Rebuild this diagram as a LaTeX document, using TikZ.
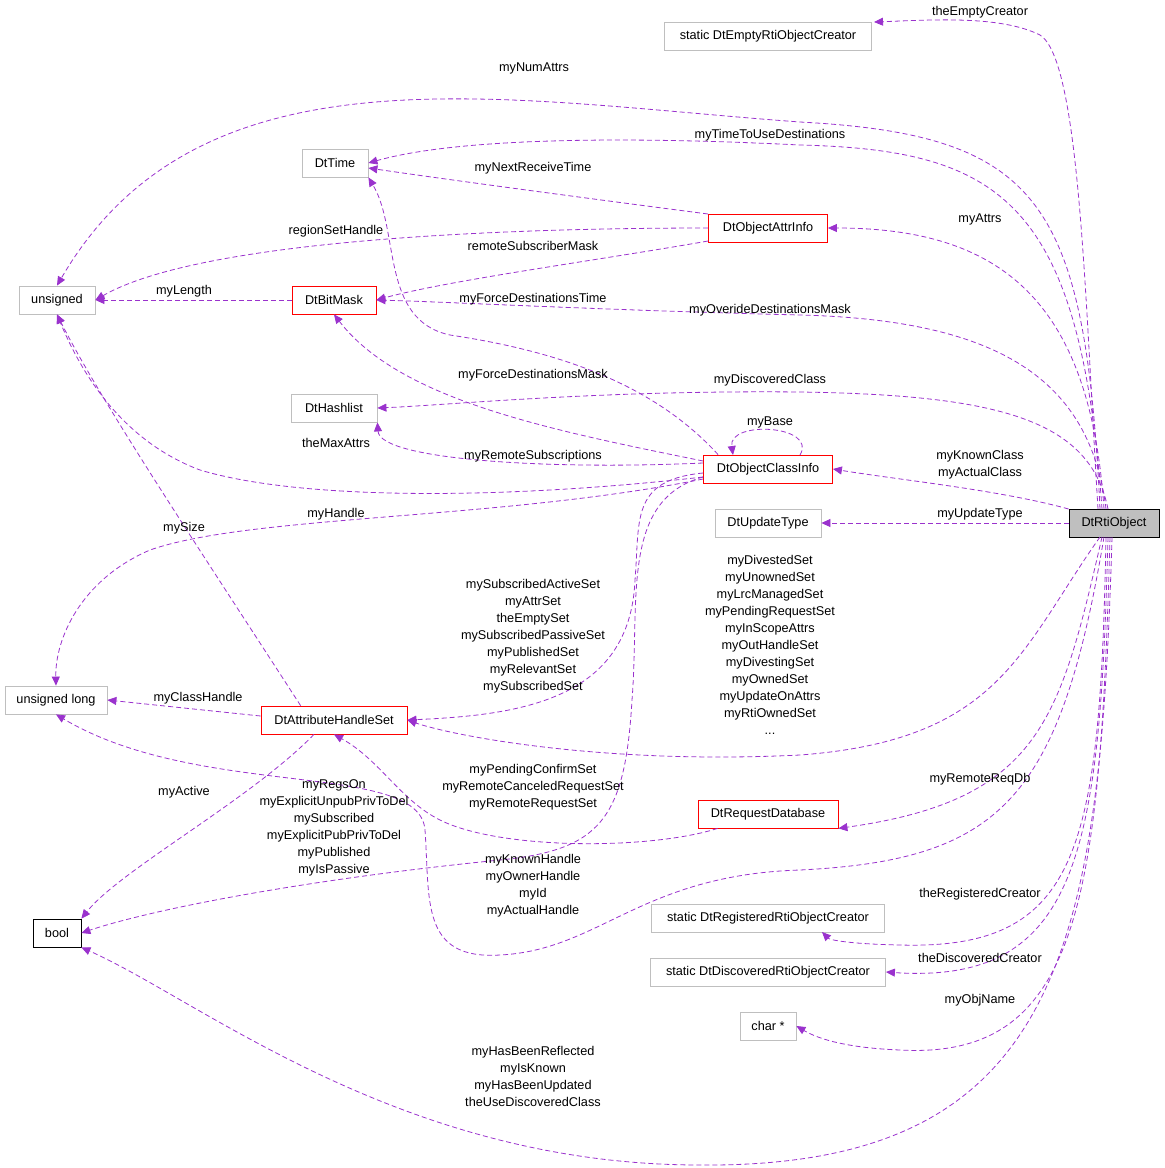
\documentclass[tikz,border=0pt]{standalone}
\usepackage{fontspec}
\setmainfont{Liberation Sans}
\usetikzlibrary{arrows.meta}
\definecolor{edge}{HTML}{9A32CD}
\definecolor{boxgray}{HTML}{BFBFBF}
\begin{document}
\begin{tikzpicture}[x=1pt,y=-1pt,
  every node/.style={font=\fontsize{12.7}{17}\selectfont},
  box/.style={draw=boxgray,fill=white,minimum height=28pt,inner xsep=6pt,inner ysep=0pt,line width=0.8pt},
  red/.style={box,draw=red},
  blk/.style={box,draw=black},
  e/.style={draw=edge,dashed,dash pattern=on 5pt off 3pt,line width=0.8pt,-{Triangle[length=9pt,width=8pt]}},
  lab/.style={align=center,inner sep=0pt}]
\useasboundingbox (0,0) rectangle (1165,1168);
% nodes
\node[box,minimum width=207pt] (empty) at (768,36) {static DtEmptyRtiObjectCreator};
\node[box,minimum width=66pt] (time) at (335,163) {DtTime};
\node[red,minimum width=119pt] (oai) at (768,228) {DtObjectAttrInfo};
\node[box,minimum width=76pt] (uns) at (57,300) {unsigned};
\node[red,minimum width=84pt] (bm) at (334,300) {DtBitMask};
\node[box,minimum width=86pt] (hl) at (334,408) {DtHashlist};
\node[red,minimum width=129pt] (oci) at (768,469) {DtObjectClassInfo};
\node[box,minimum width=106pt] (ut) at (768,523) {DtUpdateType};
\node[blk,fill=boxgray,minimum width=90pt] (rti) at (1114,523) {DtRtiObject};
\node[box,minimum width=102pt] (ul) at (56,700) {unsigned long};
\node[red,minimum width=146pt] (ahs) at (334,720) {DtAttributeHandleSet};
\node[red,minimum width=140pt] (rdb) at (768,814) {DtRequestDatabase};
\node[blk,minimum width=48pt] (bool) at (57,933) {bool};
\node[box,minimum width=233pt] (reg) at (768,918) {static DtRegisteredRtiObjectCreator};
\node[box,minimum width=235pt] (disc) at (768,972) {static DtDiscoveredRtiObjectCreator};
\node[box,minimum width=56pt] (chr) at (768,1026) {char *};
\coordinate (emptyin) at (874,22);
\coordinate (regin) at (822,932);
% edges
\draw[e] (1098,509) .. controls (1085,300) and (1080,60) .. (1040,35) .. controls (1000,15) and (930,20) .. (emptyin);
\draw[e] (1100,509) .. controls (1085,200) and (1040,135) .. (800,122) .. controls (500,100) and (200,40) .. (uns.north);
\draw[e] (1102,509) .. controls (1080,200) and (1000,150) .. (800,145) .. controls (600,135) and (450,140) .. (time.east);
\draw[e] (oai.west) ++(0,-14) .. controls (600,200) and (450,180) .. (time.east |- 0,168);
\draw[e] (oai.west) .. controls (500,228) and (200,240) .. (uns.east);
\draw[e] (oai.west) ++(0,13) .. controls (600,260) and (450,280) .. (bm.east);
\draw[e] (1104,509) .. controls (1090,300) and (1000,228) .. (oai.east);
\draw[e] (bm.west) -- (uns.east);
\draw[e] (1106,509) .. controls (1090,380) and (1000,320) .. (800,315) .. controls (600,310) and (450,302) .. (bm.east);
\draw[e] (oci.north west) ++(15,0) .. controls (650,380) and (550,350) .. (450,335) .. controls (380,320) and (400,230) .. (time.south east);
\draw[e] (oci.west) ++(0,-8) .. controls (550,430) and (400,400) .. (bm.south);
\draw[e] (1108,509) .. controls (1090,420) and (1000,395) .. (800,392) .. controls (600,390) and (450,405) .. (hl.east);
\draw[e] (oci.west) ++(0,-6) .. controls (550,470) and (380,460) .. (hl.south east);
\draw[e] (800,455) .. controls (818,425) and (728,420) .. (733,455);
\draw[e] (oci.west) ++(0,8) .. controls (500,500) and (300,500) .. (200,470) .. controls (120,440) and (80,370) .. (uns.south);
\draw[e] (rti.west) ++(0,-14) .. controls (1000,490) and (900,480) .. (oci.east);
\draw[e] (rti.west) -- (ut.east);
\draw[e] (oci.west) ++(0,10) .. controls (500,520) and (250,515) .. (150,550) .. controls (80,580) and (55,640) .. (ul.north);
\draw[e] (ahs.north west) ++(40,0) .. controls (200,550) and (100,400) .. (uns.south);
\draw[e] (oci.west) ++(0,4) .. controls (630,480) and (640,520) .. (635,580) .. controls (630,700) and (520,715) .. (ahs.east);
\draw[e] (1100,537) .. controls (1020,650) and (1000,740) .. (800,755) .. controls (600,765) and (450,735) .. (ahs.east);
\draw[e] (ahs.west) ++(0,-4) -- (ul.east);
\draw[e] (ahs.south) ++(-20,0) .. controls (250,800) and (120,870) .. (bool.north east);
\draw[e] (rdb.south west) ++(20,0) .. controls (650,850) and (500,850) .. (440,820) .. controls (400,800) and (380,760) .. (ahs.south);
\draw[e] (1102,537) .. controls (1060,720) and (1040,800) .. (rdb.south east);
\draw[e] (oci.west) ++(0,8) .. controls (620,500) and (640,600) .. (632,700) .. controls (625,820) and (600,850) .. (500,860) .. controls (300,880) and (150,910) .. (bool.east);
\draw[e] (1104,537) .. controls (1060,800) and (1000,860) .. (800,870) .. controls (640,875) and (600,950) .. (500,955) .. controls (420,960) and (430,900) .. (425,830) .. controls (420,760) and (200,800) .. (ul.south);
\draw[e] (1106,537) .. controls (1100,850) and (1080,950) .. (900,945) .. controls (850,944) and (830,940) .. (regin);
\draw[e] (1108,537) .. controls (1100,850) and (1080,985) .. (disc.east);
\draw[e] (1110,537) .. controls (1100,900) and (1080,1060) .. (900,1050) .. controls (850,1048) and (820,1040) .. (chr.east);
\draw[e] (1112,537) .. controls (1100,950) and (1060,1168) .. (700,1165) .. controls (400,1165) and (200,1000) .. (bool.south east);
% labels
\node[lab] at (980,12) {theEmptyCreator};
\node[lab] at (534,68) {myNumAttrs};
\node[lab] at (770,135) {myTimeToUseDestinations};
\node[lab] at (533,168) {myNextReceiveTime};
\node[lab] at (336,231) {regionSetHandle};
\node[lab] at (533,246) {remoteSubscriberMask};
\node[lab] at (980,219) {myAttrs};
\node[lab] at (184,291) {myLength};
\node[lab] at (533,299) {myForceDestinationsTime};
\node[lab] at (770,310) {myOverideDestinationsMask};
\node[lab] at (533,375) {myForceDestinationsMask};
\node[lab] at (770,380) {myDiscoveredClass};
\node[lab] at (770,422) {myBase};
\node[lab] at (336,443) {theMaxAttrs};
\node[lab] at (533,456) {myRemoteSubscriptions};
\node[lab] at (980,465) {myKnownClass\\myActualClass};
\node[lab] at (980,514) {myUpdateType};
\node[lab] at (336,514) {myHandle};
\node[lab] at (184,528) {mySize};
\node[lab] at (533,636) {mySubscribedActiveSet\\myAttrSet\\theEmptySet\\mySubscribedPassiveSet\\myPublishedSet\\myRelevantSet\\mySubscribedSet};
\node[lab] at (770,645) {myDivestedSet\\myUnownedSet\\myLrcManagedSet\\myPendingRequestSet\\myInScopeAttrs\\myOutHandleSet\\myDivestingSet\\myOwnedSet\\myUpdateOnAttrs\\myRtiOwnedSet\\...};
\node[lab] at (198,698) {myClassHandle};
\node[lab] at (184,792) {myActive};
\node[lab] at (533,787) {myPendingConfirmSet\\myRemoteCanceledRequestSet\\myRemoteRequestSet};
\node[lab] at (980,779) {myRemoteReqDb};
\node[lab] at (334,828) {myRegsOn\\myExplicitUnpubPrivToDel\\mySubscribed\\myExplicitPubPrivToDel\\myPublished\\myIsPassive};
\node[lab] at (533,886) {myKnownHandle\\myOwnerHandle\\myId\\myActualHandle};
\node[lab] at (980,894) {theRegisteredCreator};
\node[lab] at (980,958) {theDiscoveredCreator};
\node[lab] at (980,1000) {myObjName};
\node[lab] at (533,1076) {myHasBeenReflected\\myIsKnown\\myHasBeenUpdated\\theUseDiscoveredClass};
\end{tikzpicture}
\end{document}
